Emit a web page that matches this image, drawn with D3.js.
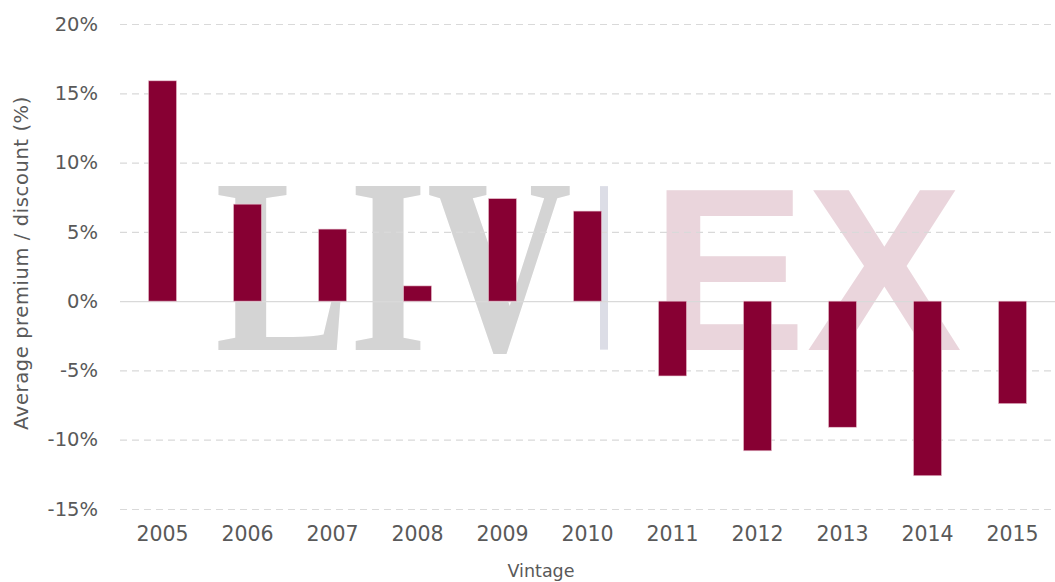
<!DOCTYPE html>
<html>
<head>
<meta charset="utf-8">
<script src="https://cdn.jsdelivr.net/npm/d3@7"></script>
<style>
  body { margin: 0; background: #fff; }
  svg { display: block; }
</style>
</head>
<body>
<svg id="chart" width="1055" height="582"></svg>
<script>
// vintages and average premium / discount (%)
var vintages = ["2005", "2006", "2007", "2008", "2009", "2010", "2011", "2012", "2013", "2014", "2015"];
var premium = [15.9, 7.0, 5.2, 1.1, 7.4, 6.5, -5.4, -10.8, -9.1, -12.6, -7.4];
var yTicks = [20, 15, 10, 5, 0, -5, -10, -15];

var svg = d3.select("#chart"),
    margin = {top: 24, right: 0, bottom: 73, left: 120},
    width = +svg.attr("width") - margin.left - margin.right,
    height = +svg.attr("height") - margin.top - margin.bottom,
    g = svg.append("g").attr("transform", "translate(" + margin.left + "," + margin.top + ")");

var data = vintages.map(function(v, i) { return {year: v, value: premium[i]}; });

var x = d3.scaleBand()
    .domain(vintages)
    .range([0, width])
    .paddingInner(0.67)
    .paddingOuter(0.335);

var y = d3.scaleLinear()
    .domain([-15, 20])
    .range([height, 0]);

var fontFam = "'DejaVu Sans', Verdana, sans-serif";

// watermark
var wm = g.append("g").attr("class", "watermark");
wm.append("text")
    .attr("x", 95).attr("y", y(-3.55))
    .attr("font-family", "'Liberation Serif', 'Times New Roman', serif")
    .attr("font-weight", "bold")
    .attr("font-size", 250)
    .attr("textLength", 357)
    .attr("lengthAdjust", "spacingAndGlyphs")
    .attr("fill", "#d4d4d4")
    .text("LIV");
wm.append("rect")
    .attr("x", 480).attr("y", y(8.3))
    .attr("width", 8).attr("height", y(-3.5) - y(8.3))
    .attr("fill", "#dcdde6");
wm.append("text")
    .attr("x", 531).attr("y", y(-3.55))
    .attr("font-family", "'Liberation Sans', Arial, sans-serif")
    .attr("font-weight", "bold")
    .attr("font-size", 232)
    .attr("textLength", 311)
    .attr("lengthAdjust", "spacingAndGlyphs")
    .attr("fill", "#ead5dc")
    .text("EX");

// gridlines
var yAxis = d3.axisLeft(y)
    .tickValues(yTicks)
    .tickSize(-width)
    .tickFormat(function(d) { return d + "%"; });

g.append("g")
    .call(customYAxis);

function customYAxis(a) {
  a.call(yAxis);
  a.select(".domain").remove();
  a.selectAll(".tick line")
      .attr("stroke", "#d9d9d9")
      .attr("stroke-width", 1.2)
      .attr("stroke-dasharray", function(d) { return d === 0 ? null : "7,5"; });
  a.selectAll(".tick text")
      .attr("x", -22)
      .attr("fill", "#595959")
      .attr("font-family", fontFam)
      .attr("font-size", 19.5);
}

// bars
g.selectAll(".bar")
    .data(data)
  .enter().append("rect")
    .attr("class", "bar")
    .attr("x", function(d) { return x(d.year); })
    .attr("y", function(d) { return y(Math.max(0, d.value)); })
    .attr("width", x.bandwidth())
    .attr("height", function(d) { return Math.abs(y(d.value) - y(0)); })
    .attr("fill", "#870033")
    .attr("stroke", "#e8c3d0")
    .attr("stroke-width", 0.6);

// x axis labels
var xAxis = d3.axisBottom(x).tickSize(0);

g.append("g")
    .attr("transform", "translate(0," + height + ")")
    .call(customXAxis);

function customXAxis(a) {
  a.call(xAxis);
  a.select(".domain").remove();
  a.selectAll(".tick text")
      .attr("y", 17)
      .attr("fill", "#595959")
      .attr("font-family", fontFam)
      .attr("font-size", 20.5);
}

// axis titles
svg.append("text")
    .attr("transform", "translate(28," + 263 + ") rotate(-90)")
    .attr("text-anchor", "middle")
    .attr("fill", "#595959")
    .attr("font-family", fontFam)
    .attr("font-size", 19.5)
    .attr("letter-spacing", 0.6)
    .text("Average premium / discount (%)");

svg.append("text")
    .attr("x", 541)
    .attr("y", 577)
    .attr("text-anchor", "middle")
    .attr("fill", "#595959")
    .attr("font-family", fontFam)
    .attr("font-size", 17.5)
    .text("Vintage");
</script>
</body>
</html>
